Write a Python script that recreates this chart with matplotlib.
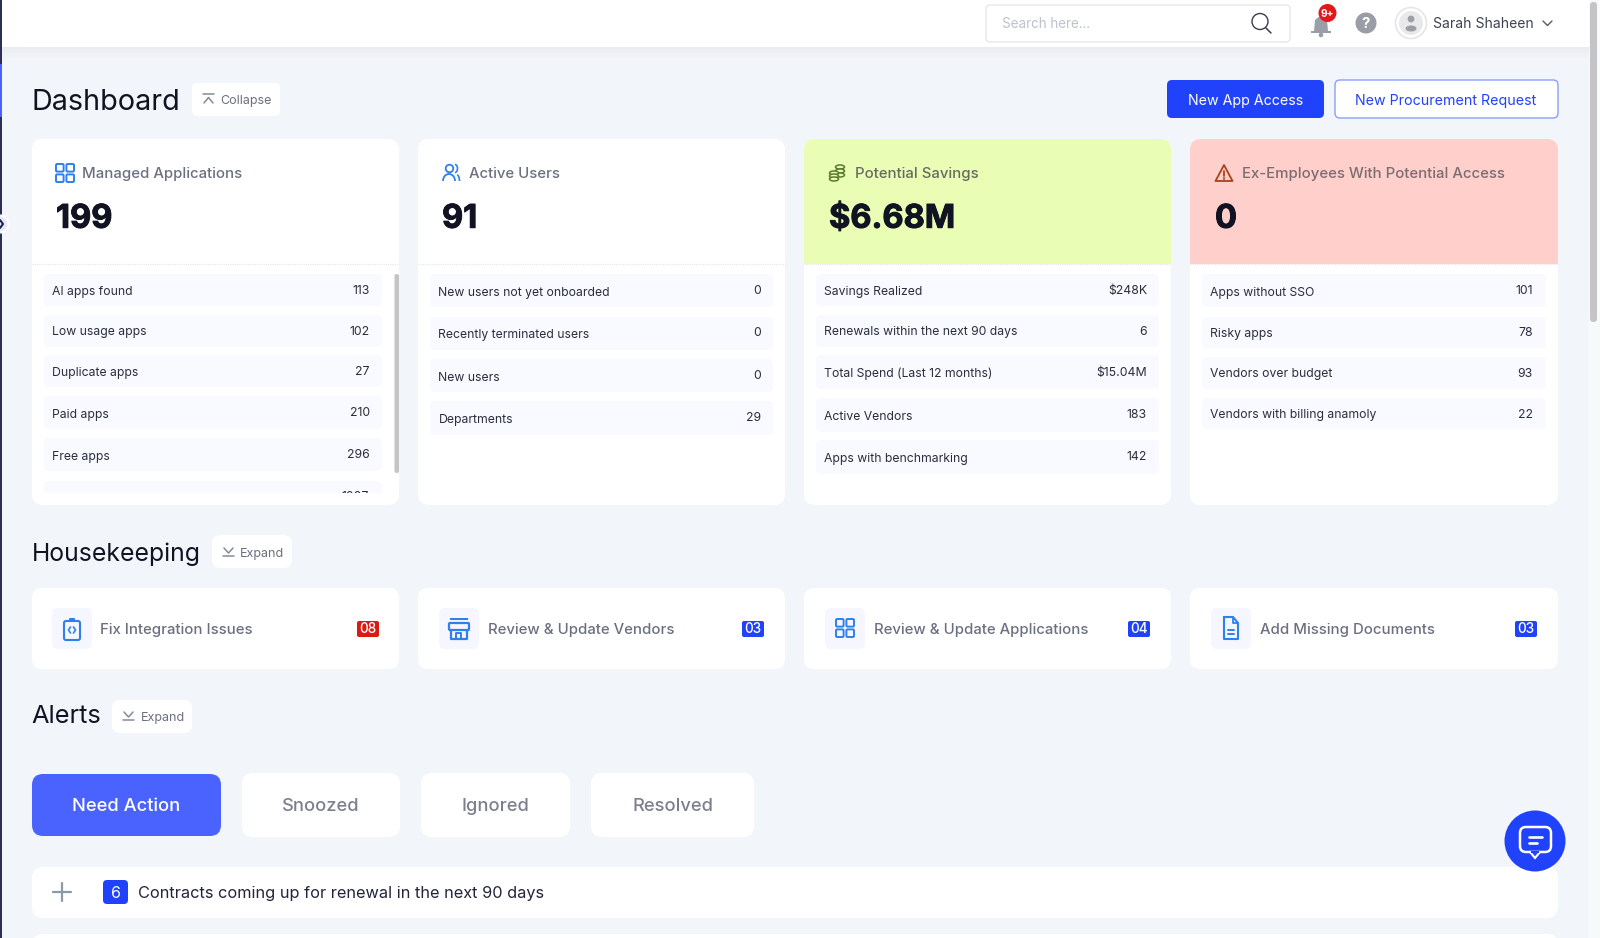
import matplotlib
matplotlib.use('Agg')
import matplotlib.pyplot as plt
import matplotlib.patheffects as pe
import numpy as np
from matplotlib.patches import FancyBboxPatch, Rectangle, Circle, Ellipse, Arc, Polygon

plt.rcParams['font.family'] = ['Inter', 'DejaVu Sans']

# text and values
card_titles = ['Managed Applications', 'Active Users', 'Potential Savings', 'Ex-Employees With Potential Access']
card_numbers = ['199', '91', '$6.68M', '0']
managed_labels = ['AI apps found', 'Low usage apps', 'Duplicate apps', 'Paid apps', 'Free apps']
managed_values = ['113', '102', '27', '210', '296']
users_labels = ['New users not yet onboarded', 'Recently terminated users', 'New users', 'Departments']
users_values = ['0', '0', '0', '29']
savings_labels = ['Savings Realized', 'Renewals within the next 90 days', 'Total Spend (Last 12 months)',
                  'Active Vendors', 'Apps with benchmarking']
savings_values = ['$248K', '6', '$15.04M', '183', '142']
access_labels = ['Apps without SSO', 'Risky apps', 'Vendors over budget', 'Vendors with billing anamoly']
access_values = ['101', '78', '93', '22']
house_titles = ['Fix Integration Issues', 'Review & Update Vendors', 'Review & Update Applications', 'Add Missing Documents']
house_counts = ['08', '03', '04', '03']
tab_names = ['Need Action', 'Snoozed', 'Ignored', 'Resolved']

# layout, pixels
card_x = [(32, 399), (418, 785), (804, 1171), (1190, 1558)]
row_x = [(44, 382), (430, 773), (816, 1159), (1202, 1546)]
row_top = [[274, 315, 355, 396, 438], [274, 317, 359, 401], [274, 315, 355, 398, 440], [274, 317, 357, 398]]
row_bot = [[306, 347, 387, 429, 471], [307, 350, 392, 435], [306, 347, 389, 432, 474], [307, 348, 389, 429]]
label_y = [[291, 331, 372, 414, 456], [292, 334, 377, 419], [291, 331, 373, 416, 458], [292, 333, 373, 414]]
value_y = [[290, 331, 371, 412, 454], [290, 332, 375, 417], [290, 331, 372, 414, 456], [290, 332, 373, 414]]
value_right = [370, 761, 1147, 1533]

BG = '#f2f5fa'
BLUE = '#2042fb'
INK = '#111322'
GREY = '#6c6f80'
ICON = '#2f80ed'

fig = plt.figure(figsize=(16, 9.38), dpi=100, facecolor=BG)
ax = fig.add_axes([0, 0, 1, 1])
ax.set_xlim(0, 1600)
ax.set_ylim(938, 0)
ax.axis('off')


def box(x0, y0, x1, y1, fc='white', r=8, ec='none', lw=0, z=2):
    p = FancyBboxPatch((x0, y0), x1 - x0, y1 - y0, boxstyle='round,pad=0,rounding_size=%s' % r,
                       fc=fc, ec=ec, lw=lw, zorder=z)
    ax.add_patch(p)


def label(x, y, s, px=13, color=INK, ha='left', weight='normal', z=5, heavy=0):
    # y is the middle of the capitals, so the baseline stays put whatever the letters are
    t = ax.text(x, y + 0.36 * px, s, fontsize=px * 0.72, color=color, ha=ha, va='baseline', fontweight=weight, zorder=z)
    if heavy:
        t.set_path_effects([pe.withStroke(linewidth=heavy, foreground=color)])


def stroke(xs, ys, color=ICON, lw=1.3, z=6):
    ax.plot(xs, ys, color=color, lw=lw, zorder=z, solid_capstyle='round', solid_joinstyle='round')


def grid_icon(cx, cy, s=8.5):
    for dx in (-1, 1):
        for dy in (-1, 1):
            c = (cx + dx * 5.2, cy + dy * 5.2)
            box(c[0] - 3.8, c[1] - 3.8, c[0] + 3.8, c[1] + 3.8, fc='none', r=1.2, ec=ICON, lw=1.4, z=6)


def users_icon(cx, cy):
    ax.add_patch(Circle((cx - 1.5, cy - 4.5), 3.8, fc='none', ec=ICON, lw=1.3, zorder=6))
    ax.add_patch(Arc((cx - 2, cy + 8), 12, 14, theta1=180, theta2=360, ec=ICON, lw=1.3, zorder=6))
    ax.add_patch(Arc((cx + 4, cy - 4.5), 5, 8, theta1=270, theta2=90, ec=ICON, lw=1.2, zorder=6))
    ax.add_patch(Arc((cx + 6, cy + 8), 5, 12, theta1=270, theta2=360, ec=ICON, lw=1.2, zorder=6))


def coins_icon(cx, cy):
    col = '#5c7a2e'
    for dy in (-6, -2, 2):
        ax.add_patch(Ellipse((cx + 3, cy + dy), 9, 4, fc='#e9feb4', ec=col, lw=1.1, zorder=6))
    for dy in (0, 3, 6):
        ax.add_patch(Ellipse((cx - 3, cy + dy), 9, 4, fc='#e9feb4', ec=col, lw=1.1, zorder=6))


def warn_icon(cx, cy):
    ax.add_patch(Polygon([(cx, cy - 8), (cx + 8.5, cy + 8), (cx - 8.5, cy + 8)], closed=True, fc='none',
                         ec='#a8421c', lw=1.3, joinstyle='round', zorder=6))
    stroke([cx, cx], [cy - 2, cy + 3], color='#a8421c', lw=1.3)
    stroke([cx, cx], [cy + 5.5, cy + 5.6], color='#a8421c', lw=1.3)


def clipboard_icon(cx, cy):
    box(cx - 8, cy - 7, cx + 8, cy + 12, fc='none', r=2, ec=ICON, lw=1.5, z=6)
    box(cx - 3, cy - 10, cx + 3, cy - 6, fc=ICON, r=1, z=6)
    stroke([cx - 1.5, cx - 3.5, cx - 1.5], [cy - 1, cy + 2, cy + 5], lw=1.2)
    stroke([cx + 1.5, cx + 3.5, cx + 1.5], [cy - 1, cy + 2, cy + 5], lw=1.2)


def store_icon(cx, cy):
    ax.add_patch(Rectangle((cx - 9, cy - 10), 18, 2.5, fc=ICON, zorder=6))
    box(cx - 10, cy - 5, cx + 10, cy + 2, fc='none', r=1, ec=ICON, lw=1.6, z=6)
    stroke([cx - 8, cx - 8, cx + 8, cx + 8], [cy + 2, cy + 11, cy + 11, cy + 2], lw=1.6)
    stroke([cx - 3, cx - 3, cx + 2, cx + 2], [cy + 11, cy + 5, cy + 5, cy + 11], lw=1.4)


def doc_icon(cx, cy):
    stroke([cx - 7, cx + 2, cx + 7, cx + 7, cx - 7, cx - 7], [cy - 11, cy - 11, cy - 5, cy + 11, cy + 11, cy - 11], lw=1.5)
    stroke([cx + 2, cx + 2, cx + 7], [cy - 11, cy - 5, cy - 5], lw=1.3)
    stroke([cx - 3, cx + 3], [cy + 2, cy + 2], lw=1.4)
    stroke([cx - 3, cx + 3], [cy + 6, cy + 6], lw=1.4)


# left strip and right scrollbar
ax.add_patch(Rectangle((0, 0), 1.5, 938, fc='#2b2f55', zorder=8))
ax.add_patch(Rectangle((0, 64), 1.5, 53, fc='#4a63ff', zorder=9))
ax.add_patch(Rectangle((1589, 0), 11, 938, fc='#f8f9fb', zorder=7))
box(1590, 2, 1597, 322, fc='#c4c4c6', r=3.5, z=8)
ax.add_patch(Circle((0, 224), 8.5, fc='#e6e9fb', ec='white', lw=1.5, zorder=9))
stroke([0, 3, 0], [220, 224, 228], color='#20244a', lw=1.5, z=10)

# top bar with soft shadow
ax.add_patch(Rectangle((0, 0), 1589, 47, fc='white', zorder=3))
shadow = np.linspace(0.86, 0.95, 12).reshape(-1, 1)
ax.imshow(shadow, extent=(0, 1589, 59, 47), cmap='gray', vmin=0, vmax=1, alpha=0.35, aspect='auto', zorder=1)
ax.set_xlim(0, 1600)
ax.set_ylim(938, 0)

box(986, 5, 1290, 42, fc='white', r=4, ec='#e3e5ea', lw=0.9, z=4)
label(1002, 23.5, 'Search here...', 13.5, '#bcc2cb')
ax.add_patch(Circle((1260, 21.5), 8, fc='none', ec='#3a3d4c', lw=1.0, zorder=6))
stroke([1266, 1271], [28, 33], color='#3a3d4c', lw=1.1)
ax.add_patch(Polygon([(1321, 15), (1327, 20), (1328, 31), (1331, 31), (1331, 33), (1311, 33), (1311, 31), (1314, 31), (1315, 20)],
                     closed=True, fc='#9a9ea8', ec='none', zorder=5))
ax.add_patch(Circle((1321, 35), 2.3, fc='#9a9ea8', zorder=5))
ax.add_patch(Circle((1327.5, 13), 9, fc='#e01a1a', zorder=6))
label(1327.5, 13, '9+', 10, 'white', ha='center', weight='bold', z=7)
ax.add_patch(Circle((1366, 23), 10.5, fc='#9a9da6', zorder=5))
label(1366, 23, '?', 15, 'white', ha='center', weight='bold', z=7)
ax.add_patch(Circle((1411, 23), 15.5, fc='white', ec='#e6e6e8', lw=1.2, zorder=5))
ax.add_patch(Circle((1411, 23), 12, fc='#e9e9eb', zorder=5))
ax.add_patch(Circle((1411, 19), 3.4, fc='#9c9ea6', zorder=6))
ax.add_patch(Ellipse((1411, 28.5), 11, 6, fc='#9c9ea6', zorder=6))
label(1433, 23, 'Sarah Shaheen', 14, '#3f4252')
stroke([1543, 1547.5, 1552], [21, 25.5, 21], color='#555866', lw=1.0)

# dashboard heading
label(31.5, 99.5, 'Dashboard', 28.8, INK)
box(192, 83, 280, 116, r=5)
stroke([203, 214], [94, 94], color='#858a98', lw=1.1)
stroke([204, 208.5, 213], [103, 97.5, 103], color='#858a98', lw=1.1)
label(220, 99.5, 'Collapse', 12.5, GREY)
box(1167, 80, 1324, 118, fc=BLUE, r=5)
label(1245.5, 99.5, 'New App Access', 14.2, 'white', ha='center')
box(1335, 80, 1558, 118, r=5, ec='#8c9efb', lw=1.0)
label(1446, 99.5, 'New Procurement Request', 14.2, BLUE, ha='center')

# summary cards
card_labels = [managed_labels, users_labels, savings_labels, access_labels]
card_values = [managed_values, users_values, savings_values, access_values]
head_fc = ['white', 'white', '#e9feb4', '#fecfcb']
title_x = [82.5, 469, 855, 1241.5]
num_x = [56, 442, 829, 1215]
for i in range(4):
    x0, x1 = card_x[i]
    box(x0, 139, x1, 505, r=11)
    box(x0, 139, x1, 190, fc=head_fc[i], r=11, z=3)
    ax.add_patch(Rectangle((x0, 165), x1 - x0, 99, fc=head_fc[i], zorder=3))
    ax.plot([x0, x1], [264, 264], color='#e4e6ea', lw=0.8, ls=(0, (1, 1)), zorder=4)
    label(title_x[i], 172.5, card_titles[i], 14.9, GREY if i < 2 else '#666b62' if i == 2 else '#7c6c70', weight='medium')
    label(num_x[i], 216, card_numbers[i], 32.6, INK, weight='bold', heavy=0.7)
    r0, r1 = row_x[i]
    for j in range(len(card_labels[i])):
        box(r0, row_top[i][j], r1, row_bot[i][j], fc='#f9faff', r=5)
        label(r0 + 8.5, label_y[i][j], card_labels[i][j], 12.2, '#2a2d3d')
        label(value_right[i], value_y[i][j], card_values[i][j], 12.3, '#2a2d3d', ha='right')

# partly hidden sixth row of the first card
box(44, 481, 382, 500, fc='#f9faff', r=5)
ax.add_patch(Rectangle((40, 493), 345, 12, fc='white', zorder=3))
label(369, 496, '1007', 12.3, '#2a2d3d', ha='right', z=2.5)
box(394.5, 274, 399, 473, fc='#c4c4c6', r=2, z=5)

grid_icon(65, 173)
users_icon(451, 173)
coins_icon(837, 173)
warn_icon(1224, 173)

# housekeeping
label(31.5, 552, 'Housekeeping', 24.8, INK)
box(212, 535, 292, 568)
stroke([224, 228.5, 233], [548, 553, 548], color='#858a98', lw=1.1)
stroke([223, 234], [556, 556], color='#858a98', lw=1.1)
label(240, 552, 'Expand', 12.5, GREY)

house_icon_x = [52, 439, 825, 1211]
house_text_x = [100.5, 488, 874, 1260]
house_badge_x = [357, 742, 1128, 1515]
house_badge_fc = ['#dd1a12', BLUE, BLUE, BLUE]
house_draw = [clipboard_icon, store_icon, grid_icon, doc_icon]
for i in range(4):
    box(card_x[i][0], 588, card_x[i][1], 669, r=10)
    ix = house_icon_x[i]
    box(ix, 608, ix + 40, 649, fc='#f5f6ff', r=6, z=3)
    house_draw[i](ix + 20, 628)
    label(house_text_x[i], 628.5, house_titles[i], 14.9, GREY, weight='medium')
    bx = house_badge_x[i]
    box(bx, 621, bx + 22, 637, fc=house_badge_fc[i], r=2, z=3)
    label(bx + 11, 628.5, house_counts[i], 13.5, 'white', ha='center', weight='medium')

# alerts
label(31.5, 714, 'Alerts', 25.4, INK)
box(112, 700, 192, 733)
stroke([124, 128.5, 133], [712, 717, 712], color='#858a98', lw=1.1)
stroke([123, 134], [720, 720], color='#858a98', lw=1.1)
label(141, 716, 'Expand', 12.5, GREY)

tab_x = [(32, 221), (242, 400), (421, 570), (591, 754)]
for i in range(4):
    x0, x1 = tab_x[i]
    if i == 0:
        box(x0, 774, x1, 836, fc='#4a63ff', r=11, z=3)
    else:
        box(x0, 773, x1, 837, r=11, z=3)
    label((x0 + x1) / 2, 804, tab_names[i], 18.3, 'white' if i == 0 else '#7c7f8e', ha='center', weight='medium')

box(32, 867, 1558, 918, r=11)
box(32, 934, 1558, 970, r=11)
stroke([53, 71], [892, 892], color='#8c9aa6', lw=1.6)
stroke([62, 62], [883, 901], color='#8c9aa6', lw=1.6)
box(103, 880, 128, 904, fc=BLUE, r=4, z=3)
label(115.5, 892, '6', 16, 'white', ha='center')
label(138, 892, 'Contracts coming up for renewal in the next 90 days', 16.3, '#22253a')

# chat button
ax.add_patch(Circle((1535, 841), 30.5, fc=BLUE, zorder=7))
box(1520, 827, 1551, 852, fc='none', r=6, ec='white', lw=1.8, z=8)
ax.add_patch(Polygon([(1530, 852), (1535, 858), (1540, 852)], closed=True, fc=BLUE, ec='white', lw=1.5, zorder=8))
ax.add_patch(Rectangle((1531, 851), 8, 2, fc=BLUE, zorder=9))
stroke([1529, 1542], [837, 837], color='white', lw=1.9, z=9)
stroke([1529, 1537], [843, 843], color='white', lw=1.9, z=9)

fig.savefig('out.png', dpi=100, facecolor=BG)
